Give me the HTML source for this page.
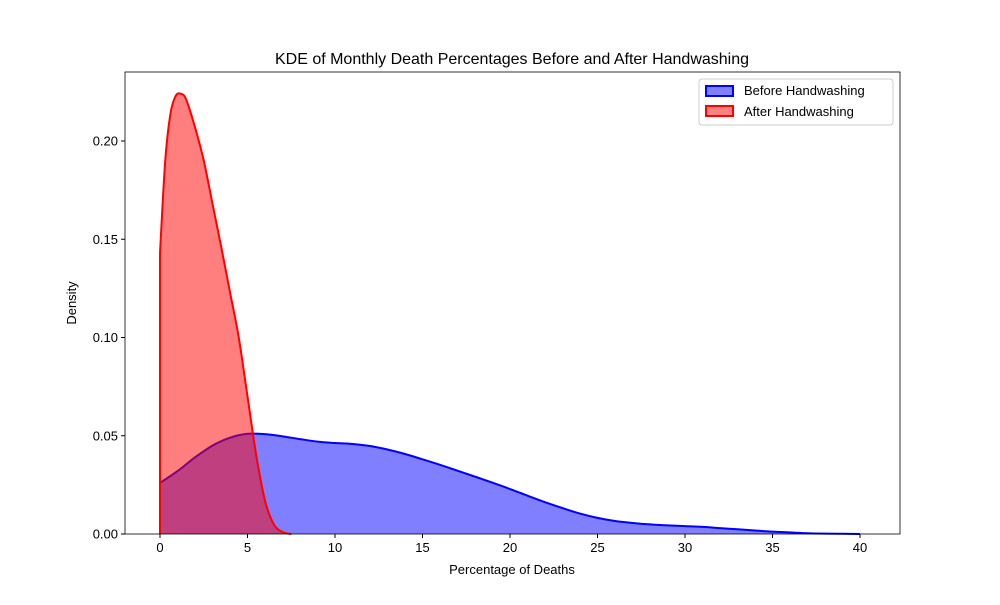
<!DOCTYPE html>
<html><head><meta charset="utf-8"><style>
body{margin:0;background:#fff;font-family:"Liberation Sans","DejaVu Sans",sans-serif}
</style></head><body>
<svg id="chart" width="1000" height="600" xmlns="http://www.w3.org/2000/svg">
<rect width="1000" height="600" fill="#fff"/>
<g id="marks"></g>
<g id="axes"></g>
</svg>
<script>
const beforeX=[0,1,2,3,4,5,6,7,8,9,10,11,12,13,14,15,16,17,18,19,20,21,22,23,24,25,26,27,28,29,30,31,32,33,34,35,36,37,38,39,40];
const beforeY=[0.026,0.032,0.039,0.045,0.049,0.051,0.0508,0.0497,0.0483,0.047,0.0463,0.0458,0.0448,0.043,0.0407,0.038,0.0352,0.0322,0.0292,0.0261,0.0229,0.0195,0.0162,0.0132,0.0104,0.0082,0.0066,0.0056,0.0049,0.0044,0.0040,0.0036,0.0030,0.0024,0.0018,0.0012,0.0008,0.0004,0.0002,0.0001,0];
const afterX=[0,0.3,0.6,0.9,1.2,1.5,2,2.5,3,3.5,4,4.5,5,5.5,6,6.5,7,7.5];
const afterY=[0.143,0.19,0.214,0.223,0.224,0.221,0.207,0.19,0.168,0.146,0.123,0.1,0.07,0.04,0.017,0.005,0.001,0];
const xTicks=[0,5,10,15,20,25,30,35,40];
const yTicks=[0,0.05,0.10,0.15,0.20];
const yTickLabels=["0.00","0.05","0.10","0.15","0.20"];
const L=125,R=900,T=72,B=534;
const sx=v=>160+v*17.5, sy=v=>534-v*1965;
const NS="http://www.w3.org/2000/svg";
function mk(tag,attrs,parent){const e=document.createElementNS(NS,tag);for(const k in attrs)e.setAttribute(k,attrs[k]);parent.appendChild(e);return e;}
function smooth(xs,ys){const p=xs.map((x,i)=>[sx(x),sy(ys[i])]);let d="M"+p[0][0]+","+p[0][1];
for(let i=0;i<p.length-1;i++){const p0=p[Math.max(0,i-1)],p1=p[i],p2=p[i+1],p3=p[Math.min(p.length-1,i+2)];
d+=` C${p1[0]+(p2[0]-p0[0])/6},${p1[1]+(p2[1]-p0[1])/6} ${p2[0]-(p3[0]-p1[0])/6},${p2[1]-(p3[1]-p1[1])/6} ${p2[0]},${p2[1]}`;}return d;}
const marks=document.getElementById('marks'),axes=document.getElementById('axes');
function series(xs,ys,col,name){const line=smooth(xs,ys);
const f=mk('path',{d:line+` L${sx(xs[xs.length-1])},${sy(0)} L${sx(xs[0])},${sy(0)} Z`,fill:col,'fill-opacity':0.5,stroke:'none'},marks);


const l=mk('path',{d:`M${sx(xs[0])},${sy(0)} L`+line.slice(1),fill:'none',stroke:col,'stroke-width':2},marks);

}
series(beforeX,beforeY,'#0000ff','before-handwashing');
series(afterX,afterY,'#ff0000','after-handwashing');
const fr=mk('rect',{x:L,y:T,width:R-L,height:B-T,fill:'none',stroke:'#000','stroke-width':0.8},axes);


xTicks.forEach(v=>{mk('line',{x1:sx(v),x2:sx(v),y1:B,y2:B+4,stroke:'#000'},axes);
const t=mk('text',{x:sx(v),y:B+18,'text-anchor':'middle','font-size':13},axes);t.textContent=v;

});
yTicks.forEach((v,i)=>{mk('line',{x1:L-4,x2:L,y1:sy(v),y2:sy(v),stroke:'#000'},axes);
const t=mk('text',{x:L-7,y:sy(v)+4.5,'text-anchor':'end','font-size':13},axes);t.textContent=yTickLabels[i];

});
</script>
<svg style="position:absolute;left:0;top:0" width="1000" height="600" xmlns="http://www.w3.org/2000/svg">
<text x="512" y="64" text-anchor="middle" font-size="16">KDE of Monthly Death Percentages Before and After Handwashing</text>
<text x="512" y="574" text-anchor="middle" font-size="13">Percentage of Deaths</text>
<text transform="translate(76,303) rotate(-90)" text-anchor="middle" font-size="13">Density</text>
<g>
<rect x="699" y="79" width="194" height="46" fill="#fff" stroke="#ccc" rx="3"/>
<rect x="706" y="86" width="27" height="10" fill="#8080ff" stroke="#0000ff" stroke-width="2"/>
<text x="744" y="95" font-size="13">Before Handwashing</text>
<rect x="706" y="106" width="27" height="10" fill="#ff8080" stroke="#ff0000" stroke-width="2"/>
<text x="744" y="116" font-size="13">After Handwashing</text>
</g>
</svg>
</body></html>
